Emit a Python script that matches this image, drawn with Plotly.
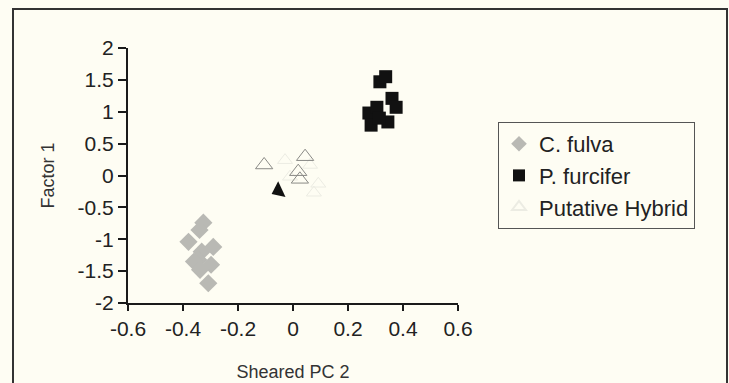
import plotly.graph_objects as go

# C. fulva (grey diamonds)
fulva_x = [-0.326, -0.34, -0.38, -0.29, -0.332, -0.344, -0.36, -0.298, -0.338, -0.308]
fulva_y = [-0.74, -0.855, -1.04, -1.12, -1.195, -1.325, -1.35, -1.40, -1.48, -1.69]

# P. furcifer (black squares)
furc_x = [0.316, 0.337, 0.36, 0.375, 0.276, 0.305, 0.284, 0.345, 0.314]
furc_y = [1.47, 1.55, 1.21, 1.07, 0.98, 1.07, 0.79, 0.84, 0.90]

# Putative hybrid (open triangles, clearly drawn)
hyb_x = [-0.105, 0.044, 0.019, 0.025]
hyb_y = [0.165, 0.295, 0.06, -0.06]
# Putative hybrid (faint marks)
hyb_faint_x = [-0.029, 0.062, -0.011, 0.092, 0.076]
hyb_faint_y = [0.24, 0.165, -0.02, -0.13, -0.27]
# Odd filled triangle
odd_x = [-0.053]
odd_y = [-0.24]

x_ticks = [-0.6, -0.4, -0.2, 0, 0.2, 0.4, 0.6]
y_ticks = [-2, -1.5, -1, -0.5, 0, 0.5, 1, 1.5, 2]

bg = "#FEFDF3"
font = "Liberation Sans, Arial, sans-serif"

fig = go.Figure()
fig.add_trace(go.Scatter(x=fulva_x, y=fulva_y, mode="markers", name="C. fulva",
                         marker=dict(symbol="diamond", size=14, color="#B9B9B4",
                                     line=dict(width=0))))
fig.add_trace(go.Scatter(x=furc_x, y=furc_y, mode="markers", name="P. furcifer",
                         marker=dict(symbol="square", size=13, color="#111111",
                                     line=dict(width=0))))
fig.add_trace(go.Scatter(x=hyb_faint_x, y=hyb_faint_y, mode="markers", name="Putative Hybrid",
                         legendgroup="hyb",
                         marker=dict(symbol="triangle-up-open", size=13, color="#ECECE3",
                                     line=dict(width=1))))
fig.add_trace(go.Scatter(x=hyb_x, y=hyb_y, mode="markers", name="Putative Hybrid",
                         legendgroup="hyb", showlegend=False,
                         marker=dict(symbol="triangle-up-open", size=15, color="#8A8A86",
                                     line=dict(width=1))))
fig.add_trace(go.Scatter(x=odd_x, y=odd_y, mode="markers", showlegend=False,
                         marker=dict(symbol="triangle-left", size=15, color="#111111",
                                     angle=-25, line=dict(width=0))))

axis_common = dict(showgrid=False, zeroline=False, showline=True, linecolor="#1a1a1a",
                   linewidth=2, ticks="outside", tickcolor="#1a1a1a", tickwidth=2,
                   tickfont=dict(family=font, size=21, color="#222"),
                   title_font=dict(family=font, size=18, color="#333"))

fig.update_xaxes(range=[-0.6, 0.6], tickvals=x_ticks,
                 ticktext=[("%g" % v) for v in x_ticks], ticklen=6,
                 title_text="Sheared PC 2", title_standoff=26, **axis_common)
fig.update_yaxes(range=[-2, 2], tickvals=y_ticks,
                 ticktext=[("%g" % v) for v in y_ticks], ticklen=8,
                 title_text="Factor 1", title_standoff=18, **axis_common)

L, R, T, B = 128, 271, 48, 80
pw, ph = 729 - L - R, 383 - T - B
def px(x): return (x - L) / pw
def py(y): return (383 - B - y) / ph

fig.add_shape(type="rect", xref="paper", yref="paper",
              x0=px(13), x1=px(727), y0=py(395), y1=py(9),
              line=dict(color="#333", width=2), fillcolor="rgba(0,0,0,0)", layer="below")

fig.update_layout(
    width=729, height=383,
    margin=dict(l=L, r=R, t=T, b=B, pad=0, autoexpand=False),
    paper_bgcolor=bg, plot_bgcolor=bg,
    showlegend=True,
    legend=dict(x=px(498), y=py(122), xanchor="left", yanchor="top",
                bgcolor=bg, bordercolor="#555", borderwidth=1,
                font=dict(family=font, size=22, color="#222"),
                itemsizing="constant", tracegroupgap=0),
)

fig.write_html("out.html", config={"displayModeBar": False},
               post_script="document.body.style.margin='0';document.body.style.background='%s';" % bg)
